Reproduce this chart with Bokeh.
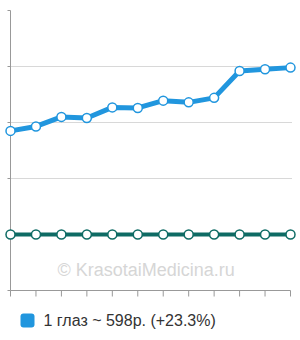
from bokeh.plotting import figure
from bokeh.models import ColumnDataSource, Range1d, Label, BoxAnnotation
from bokeh.embed import file_html
from bokeh.resources import INLINE

# ---- data ----
months = list(range(12))
price_one_eye = [485, 493, 510, 508, 527, 526, 539, 536, 544, 592, 595, 598]
price_other = [300] * 12
series_name = "1 глаз"
last_price = price_one_eye[-1]
pct_change = 23.3
y_ticks = [200, 300, 400, 500, 600, 700]
grid_ticks = [400, 500, 600]

BLUE = "#2196de"
TEAL = "#0e6b64"
AXIS = "#999999"

# layout: plot area spans x 10..290 px, y 10..290 px of a 300x340 canvas
W, H = 300, 340
PL, PR, PT, PB = 10, 290, 10, 290
x0, x1 = months[0], months[-1]
y0, y1 = y_ticks[0], y_ticks[-1]
ux = (x1 - x0) / (PR - PL)      # data units per px
uy = (y1 - y0) / (PB - PT)

p = figure(width=W, height=H, output_backend="svg", toolbar_location=None,
           x_range=Range1d(x0 - PL * ux, x1 + (W - PR) * ux),
           y_range=Range1d(y0 - (H - PB) * uy, y1 + PT * uy),
           min_border=0)
p.axis.visible = False
p.grid.visible = False
p.outline_line_color = None
p.background_fill_color = "white"
p.border_fill_color = "white"

# grid lines
p.segment(x0=[x0] * len(grid_ticks), y0=grid_ticks, x1=[x1 + 0.06] * len(grid_ticks), y1=grid_ticks,
          line_color="#d8d8d8", line_width=1)
# left axis + ticks
p.segment(x0=[x0], y0=[y0], x1=[x0], y1=[y1], line_color=AXIS, line_width=1)
p.segment(x0=[x0 - 3 * ux] * len(y_ticks), y0=y_ticks, x1=[x0] * len(y_ticks), y1=y_ticks,
          line_color=AXIS, line_width=1)
# bottom axis + ticks
p.segment(x0=[x0], y0=[y0], x1=[x1], y1=[y0], line_color=AXIS, line_width=1)
p.segment(x0=months, y0=[y0] * len(months), x1=months, y1=[y0 - 6 * uy] * len(months),
          line_color=AXIS, line_width=1)

# watermark
p.add_layout(Label(x=57, y=H - 279, x_units="screen", y_units="screen",
                   text="© KrasotaiMedicina.ru", text_font="Liberation Sans",
                   text_font_size="18px", text_color="#d6d6d6"))

src_blue = ColumnDataSource(dict(x=months, y=price_one_eye))
src_teal = ColumnDataSource(dict(x=months, y=price_other))

p.line("x", "y", source=src_teal, line_color=TEAL, line_width=4)
p.scatter("x", "y", source=src_teal, size=9, fill_color="white", line_color=TEAL, line_width=1.5)
p.line("x", "y", source=src_blue, line_color=BLUE, line_width=5, line_join="round")
p.scatter("x", "y", source=src_blue, size=9, fill_color="white", line_color=BLUE, line_width=1.5)

# legend
p.add_layout(BoxAnnotation(left=20, right=34, bottom=H - 327, top=H - 313,
                           left_units="screen", right_units="screen",
                           bottom_units="screen", top_units="screen",
                           fill_color=BLUE, fill_alpha=1, line_color=None,
                           border_radius=3))
p.add_layout(Label(x=43, y=H - 320, x_units="screen", y_units="screen",
                   text=f"{series_name} ~ {last_price}р. (+{pct_change}%)",
                   text_baseline="middle", text_font="Liberation Sans",
                   text_font_size="16px", text_color="#333333"))

open("out.html", "w").write(file_html(p, INLINE))
